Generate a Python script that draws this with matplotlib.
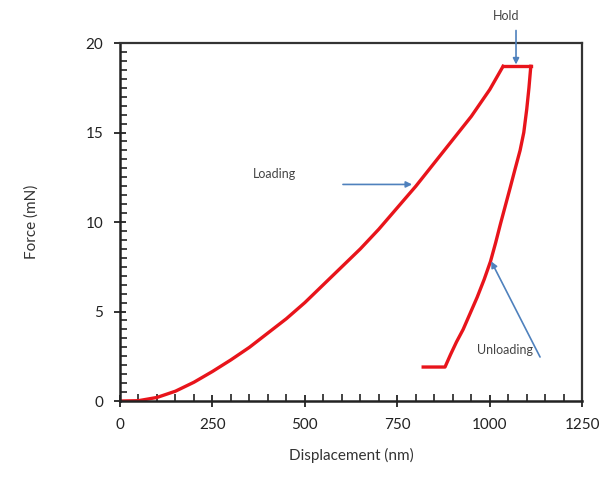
import numpy as np
import matplotlib.pyplot as plt
from matplotlib.ticker import MultipleLocator

plt.rcParams['font.family'] = ['Lato', 'DejaVu Sans']

# loading branch
load_x = [0, 50, 100, 150, 200, 250, 300, 350, 400, 450, 500, 550, 600,
          650, 700, 750, 800, 850, 900, 950, 1000, 1036]
load_y = [0, 0.02, 0.2, 0.55, 1.05, 1.65, 2.3, 3.0, 3.8, 4.6, 5.5, 6.5, 7.5,
          8.5, 9.6, 10.8, 12.0, 13.3, 14.6, 15.9, 17.4, 18.7]
# hold segment
hold_x = [1036, 1111]
hold_y = [18.7, 18.7]
# unloading branch
unload_x = [1111, 1106, 1100, 1092, 1082, 1069, 1055, 1042, 1029, 1016, 1002,
            985, 966, 947, 928, 910, 894, 879, 820]
unload_y = [18.7, 17.5, 16.3, 15.0, 14.0, 13.0, 11.9, 10.9, 9.9, 8.85, 7.8,
            6.8, 5.8, 4.9, 4.0, 3.3, 2.6, 1.9, 1.9]

fig = plt.figure(figsize=(6.09, 4.78), dpi=100)
ax = fig.add_axes([0.197, 0.161, 0.759, 0.749])

red = '#e8141b'
ax.plot(load_x, load_y, color=red, lw=2.4, solid_joinstyle='round')
ax.plot(hold_x, hold_y, color=red, lw=2.4)
ax.plot(unload_x, unload_y, color=red, lw=2.4, solid_joinstyle='round')

ax.set_xlabel('Displacement (nm)', fontsize=11, color='#333333', labelpad=12)
ax.set_ylabel('Force (mN)', fontsize=11, color='#333333', labelpad=34)

blue = '#4f81bd'
ax.text(1044, 21.5, 'Hold', fontsize=9, color='#444444', ha='center', va='center')
ax.annotate('', xy=(1071, 18.8), xytext=(1071, 20.7), annotation_clip=False,
            arrowprops=dict(arrowstyle='-|>', color=blue, lw=1.2, shrinkA=0,
                            shrinkB=0, mutation_scale=9))
ax.text(419, 12.7, 'Loading', fontsize=9, color='#444444', ha='center', va='center')
ax.annotate('', xy=(790, 12.1), xytext=(603, 12.1),
            arrowprops=dict(arrowstyle='-|>', color=blue, lw=1.2, shrinkA=0,
                            shrinkB=0, mutation_scale=9))
ax.text(1042, 2.85, 'Unloading', fontsize=9, color='#444444', ha='center', va='center')
ax.annotate('', xy=(1004, 7.8), xytext=(1136, 2.46),
            arrowprops=dict(arrowstyle='-|>', color=blue, lw=1.2, shrinkA=0,
                            shrinkB=0, mutation_scale=9))

for s in ['left', 'bottom']:
    ax.spines[s].set_linewidth(1.8)
    ax.spines[s].set_edgecolor('#222222')
for s in ['top', 'right']:
    ax.spines[s].set_linewidth(1.6)
    ax.spines[s].set_edgecolor('#333333')

# axis limits and ticks last
ax.set_xlim(0, 1250)
ax.set_ylim(0, 20)
ax.xaxis.set_major_locator(MultipleLocator(250))
ax.xaxis.set_minor_locator(MultipleLocator(50))
ax.yaxis.set_major_locator(MultipleLocator(5))
ax.yaxis.set_minor_locator(MultipleLocator(0.5))
ax.tick_params(which='major', direction='inout', length=8, width=1.3,
               labelsize=11, labelcolor='#222222', color='#222222', pad=8)
ax.tick_params(which='minor', direction='in', length=5, width=1.2, color='#222222')
ax.tick_params(which='both', top=False, right=False, bottom=True, left=True)

fig.savefig('out.png', dpi=100)
